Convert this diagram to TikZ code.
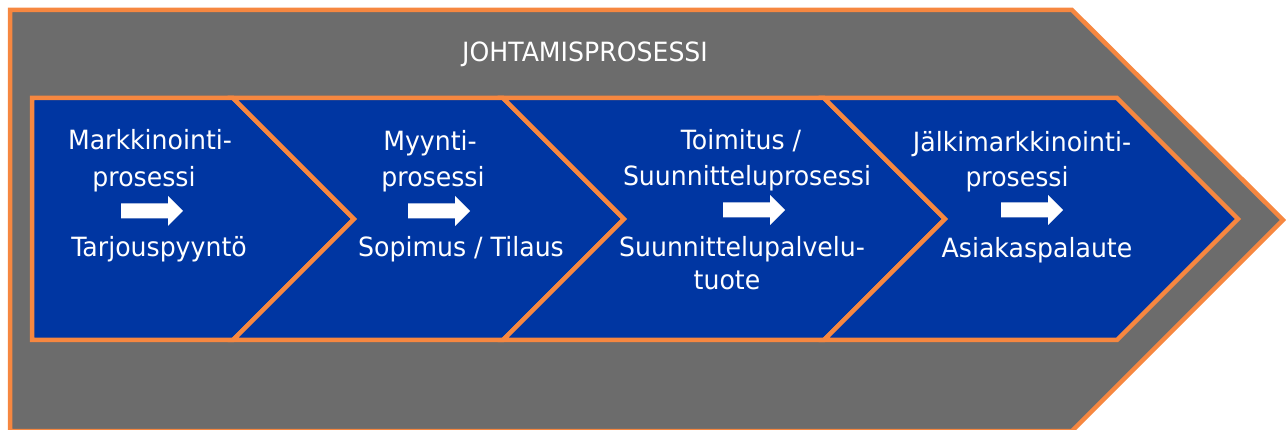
\documentclass[tikz,border=0pt]{standalone}
\usepackage{fontspec}
\setmainfont{DejaVu Sans}[FakeStretch=0.95]
\definecolor{procgray}{RGB}{108,108,108}
\definecolor{procblue}{RGB}{0,54,162}
\definecolor{procorange}{RGB}{246,135,64}
\tikzset{
  outerbox/.style={fill=procgray, draw=procorange, line width=4.5pt},
  chevbox/.style={fill=procblue, draw=procorange, line width=4.5pt},
  lbl/.style={text=white, font=\fontsize{26.5}{30}\selectfont, anchor=base, inner sep=0pt},
  flowarrow/.style={fill=white, draw=none},
}
\newcommand{\flowarr}[2]{% center x, center y
  \fill[flowarrow] (#1-31,#2-7.5) -- (#1+16,#2-7.5) -- (#1+16,#2-15) -- (#1+31,#2) -- (#1+16,#2+15) -- (#1+16,#2+7.5) -- (#1-31,#2+7.5) -- cycle;}
\begin{document}
\begin{tikzpicture}[x=1pt,y=-1pt]
\useasboundingbox (0,0) rectangle (1286,430);
% outer process
\draw[outerbox] (10,10) -- (1072,10) -- (1283,220) -- (1072,431) -- (10,431) -- cycle;
\node[lbl] (johto) at (585,62) {JOHTAMISPROSESSI};
% chevrons
\draw[chevbox] (32,98) -- (233,98) -- (354,219) -- (233,340) -- (32,340) -- cycle;
\draw[chevbox] (233,98) -- (503,98) -- (624,219) -- (503,340) -- (233,340) -- (354,219) -- cycle;
\draw[chevbox] (503,98) -- (824,98) -- (945,219) -- (824,340) -- (503,340) -- (624,219) -- cycle;
\draw[chevbox] (824,98) -- (1117,98) -- (1238,219) -- (1117,340) -- (824,340) -- (945,219) -- cycle;
% block 1
\node[lbl] (m1) at (150,150) {Markkinointi-};
\node[lbl] (m2) at (144,187) {prosessi};
\flowarr{152}{211}
\node[lbl] (m3) at (159,257) {Tarjouspyyntö};
% block 2
\node[lbl] (s1) at (430,151) {Myynti-};
\node[lbl] (s2) at (433,187) {prosessi};
\flowarr{439}{211}
\node[lbl] (s3) at (461,257) {Sopimus / Tilaus};
% block 3
\node[lbl] (t1) at (741,150) {Toimitus /};
\node[lbl] (t2) at (747,186) {Suunnitteluprosessi};
\flowarr{754}{210}
\node[lbl] (t3) at (742,257) {Suunnittelupalvelu-};
\node[lbl] (t4) at (727,290) {tuote};
% block 4
\node[lbl] (j1) at (1022,152) {Jälkimarkkinointi-};
\node[lbl] (j2) at (1017,187) {prosessi};
\flowarr{1032}{210}
\node[lbl] (j3) at (1037,258) {Asiakaspalaute};
\end{tikzpicture}
\end{document}
